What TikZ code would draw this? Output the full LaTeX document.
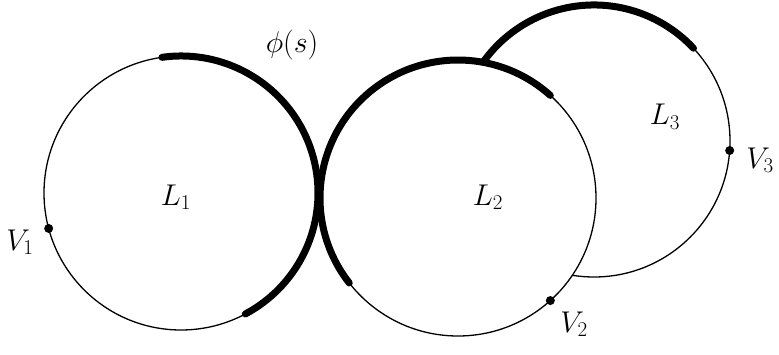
\RequirePackage{fix-cm}
\documentclass[tikz,border=0pt]{standalone}
\usepackage{tikz}
\usetikzlibrary{positioning}
\tikzset{
  every picture/.style={line width=1.3pt,draw=black},
  loopc/.style={draw=black,line width=1.3pt},
  heavy/.style={draw=black,line width=7pt,line cap=round},
  vdot/.style={circle,fill=black,inner sep=0pt,minimum size=9pt},
  lab/.style={font=\fontsize{30}{36}\selectfont,inner sep=1pt},
}
\begin{document}
\begin{tikzpicture}[x=1pt,y=1pt]
  \useasboundingbox (0,0) rectangle (779,354);
  % centres of the three loops
  \coordinate (c1) at (181,161);
  \coordinate (c2) at (458,156);
  \coordinate (c3) at (594,213);
  % L3 lies behind L2
  \draw[loopc] (c3) circle (136);
  \draw[heavy] ([shift={(160:136)}]c3) arc[start angle=160,end angle=43,radius=136];
  \filldraw[loopc,fill=white] (c2) circle (138);
  \draw[heavy] ([shift={(218:138)}]c2) arc[start angle=218,end angle=48,radius=138];
  \draw[loopc] (c1) circle (137);
  \draw[heavy] ([shift={(98:137)}]c1) arc[start angle=98,end angle=-62,radius=137];
  % marked points
  \node[vdot] (v1) at ([shift={(195:137)}]c1) {};
  \node[vdot] (v2) at ([shift={(-48:138)}]c2) {};
  \node[vdot] (v3) at ([shift={(-4:136)}]c3) {};
  \node[lab] (v1l) at (20,112) {$V_1$};
  \node[lab] (v2l) at (574,30) {$V_2$};
  \node[lab] (v3l) at (760,194) {$V_3$};
  \node[lab] (l1) at (176,157) {$L_1$};
  \node[lab] (l2) at (488,157) {$L_2$};
  \node[lab] (l3) at (665,237) {$L_3$};
  \node[lab] (phi) at (292,309) {$\phi(s)$};
\end{tikzpicture}
\end{document}
